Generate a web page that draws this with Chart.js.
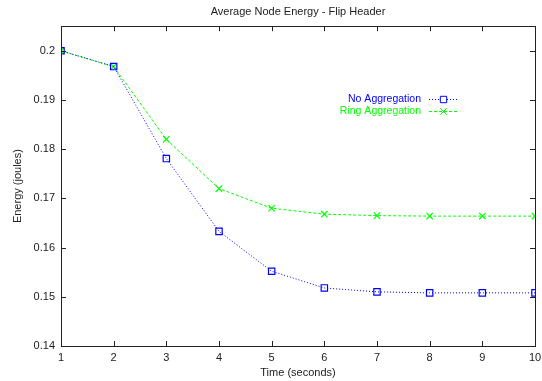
<!DOCTYPE html>
<html>
<head>
<meta charset="utf-8">
<script src="https://cdn.jsdelivr.net/npm/chart.js@4.4.1/dist/chart.umd.min.js"></script>
<style>
  html, body { margin: 0; padding: 0; background: #fff; }
  #wrap { width: 542px; height: 381px; }
</style>
</head>
<body>
<div id="wrap"><canvas id="energyChart" width="542" height="381"></canvas></div>
<script>
// seconds on the x axis
var times = [1, 2, 3, 4, 5, 6, 7, 8, 9, 10];
// average node energy in joules
var noAggregation = [0.2, 0.1968, 0.1781, 0.1633, 0.1552, 0.1518, 0.1510, 0.1508, 0.1508, 0.1508];
var ringAggregation = [0.2, 0.1968, 0.1820, 0.1720, 0.1680, 0.1668, 0.1665, 0.1664, 0.1664, 0.1664];
var seriesNames = ['No Aggregation', 'Ring Aggregation'];
var yTicks = [0.14, 0.15, 0.16, 0.17, 0.18, 0.19, 0.2];

var FONT = 'Liberation Sans, Arial, Helvetica, sans-serif';
var TEXT = '#222';

function toPoints(vals) {
    var pts = [];
    for (var i = 0; i < times.length; i++) {
        pts.push({ x: times[i], y: vals[i] });
    }
    return pts;
}

// gnuplot style frame: box round the plot, ticks pointing inwards on all four sides
var framePlugin = {
    id: 'frame',
    afterDatasetsDraw: function (chart) {
        var ctx = chart.ctx;
        var a = chart.chartArea;
        var xs = chart.scales.x, ys = chart.scales.y;
        var len = 5;
        ctx.save();
        ctx.strokeStyle = '#222';
        ctx.lineWidth = 1;
        ctx.beginPath();
        xs.ticks.forEach(function (t) {
            var px = Math.round(xs.getPixelForValue(t.value)) + 0.5;
            ctx.moveTo(px, a.bottom); ctx.lineTo(px, a.bottom - len);
            ctx.moveTo(px, a.top); ctx.lineTo(px, a.top + len);
        });
        ys.ticks.forEach(function (t) {
            var py = Math.round(ys.getPixelForValue(t.value)) + 0.5;
            ctx.moveTo(a.left, py); ctx.lineTo(a.left + len, py);
            ctx.moveTo(a.right, py); ctx.lineTo(a.right - len, py);
        });
        ctx.stroke();
        ctx.strokeRect(Math.round(a.left) + 0.5, Math.round(a.top) + 0.5,
            Math.round(a.right - a.left), Math.round(a.bottom - a.top));
        ctx.restore();
    }
};

// key inside the plot, text right aligned with the sample on its right
var keyPlugin = {
    id: 'key',
    afterDraw: function (chart) {
        var ctx = chart.ctx;
        var textX = 421, lineX0 = 429, lineX1 = 458, y0 = 99, rowH = 12;
        ctx.save();
        chart.data.datasets.forEach(function (ds, i) {
            var y = y0 + i * rowH;
            ctx.font = '10.5px ' + FONT;
            ctx.fillStyle = ds.borderColor;
            ctx.textAlign = 'right';
            ctx.textBaseline = 'middle';
            ctx.fillText(ds.label, textX, y);
            ctx.strokeStyle = ds.borderColor;
            ctx.lineWidth = 1;
            ctx.setLineDash(ds.borderDash);
            ctx.beginPath();
            ctx.moveTo(lineX0, y + 0.5);
            ctx.lineTo(lineX1, y + 0.5);
            ctx.stroke();
            ctx.setLineDash([]);
            ctx.fillStyle = '#fff';
            Chart.helpers.drawPoint(ctx, {
                pointStyle: ds.pointStyle,
                radius: ds.pointRadius,
                rotation: 0,
                borderWidth: 1
            }, (lineX0 + lineX1) / 2, y + 0.5);
        });
        ctx.restore();
    }
};

var ctx = document.getElementById('energyChart');
var energyChart = new Chart(ctx, {
    type: 'line',
    data: {
        datasets: [{
            label: seriesNames[0],
            data: toPoints(noAggregation),
            borderColor: '#0000ff',
            backgroundColor: '#0000ff',
            pointBackgroundColor: 'rgba(255,255,255,0)',
            borderWidth: 1,
            borderDash: [1, 2],
            pointStyle: 'rect',
            pointRadius: 4.5,
            pointBorderWidth: 1.2,
            tension: 0
        }, {
            label: seriesNames[1],
            data: toPoints(ringAggregation),
            borderColor: '#00ff00',
            backgroundColor: '#00ff00',
            borderWidth: 1,
            borderDash: [3, 2],
            pointStyle: 'crossRot',
            pointRadius: 4.5,
            pointBorderWidth: 1.2,
            tension: 0
        }]
    },
    options: {
        responsive: false,
        animation: false,
        layout: { padding: { left: 0, right: 7, top: 0, bottom: 0 } },
        plugins: {
            legend: { display: false },
            tooltip: { enabled: false },
            title: {
                display: true,
                text: 'Average Node Energy - Flip Header',
                fullSize: false,
                color: TEXT,
                font: { family: FONT, size: 11, weight: 'normal' },
                padding: { top: 5, bottom: 8 }
            }
        },
        scales: {
            x: {
                type: 'linear',
                min: times[0],
                max: times[times.length - 1],
                grid: { display: false, drawTicks: false },
                border: { display: false },
                ticks: {
                    stepSize: 1,
                    padding: 5,
                    color: TEXT,
                    font: { family: FONT, size: 11 }
                },
                title: {
                    display: true,
                    text: 'Time (seconds)',
                    color: TEXT,
                    font: { family: FONT, size: 11 },
                    padding: { top: 0, bottom: 1 }
                },
                afterFit: function (scale) {
                    scale.height = 381 - 346;
                    scale.paddingLeft = 0;
                    scale.paddingRight = 0;
                }
            },
            y: {
                min: yTicks[0],
                max: 0.205,
                grid: { display: false, drawTicks: false },
                border: { display: false },
                afterBuildTicks: function (scale) {
                    scale.ticks = yTicks.map(function (v) { return { value: v }; });
                },
                ticks: {
                    padding: 6,
                    color: TEXT,
                    font: { family: FONT, size: 11 },
                    callback: function (v) { return String(+v.toFixed(3)); }
                },
                title: {
                    display: true,
                    text: 'Energy (joules)',
                    color: TEXT,
                    font: { family: FONT, size: 11 },
                    padding: { top: 11, bottom: 0 }
                },
                afterFit: function (scale) { scale.width = 61; }
            }
        }
    },
    plugins: [framePlugin, keyPlugin]
});
</script>
</body>
</html>
